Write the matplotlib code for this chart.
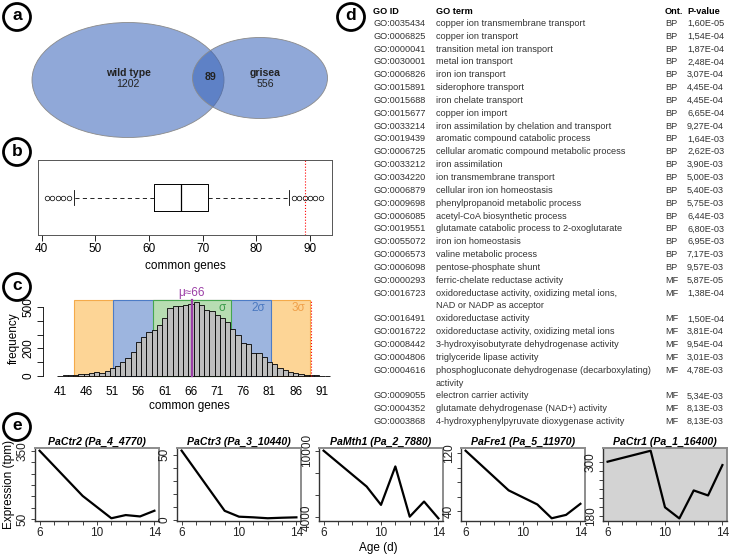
import numpy as np
import matplotlib
matplotlib.use("Agg")
import matplotlib.pyplot as plt
from matplotlib.patches import Ellipse, Circle, Rectangle

plt.rcParams['font.family'] = ['Liberation Sans', 'DejaVu Sans']

#%%
### data ###
# panel a: venn counts
venn_names = ["wild type", "grisea"]
venn_only = [1202, 556]
venn_common = 89

# panel b: boxplot of common genes (random draws)
box_q1, box_med, box_q3 = 61, 66, 71
box_whislo, box_whishi = 46, 86
box_outliers = [41, 42, 43, 44, 45, 87, 88, 89, 90, 91, 92]
observed = 89

# panel c: histogram of common genes
hist_vals = np.arange(41, 93)
hist_counts = [2, 4, 6, 8, 12, 14, 20, 28, 25, 38, 55, 75, 100, 130, 175, 245,
               285, 320, 330, 370, 420, 490, 510, 510, 515, 520, 540, 515, 475,
               470, 445, 420, 395, 340, 295, 240, 235, 170, 165, 140, 105, 88,
               55, 45, 32, 20, 15, 10, 6, 5, 3, 2]
mu, sd = 66.2, 7.5

# panel d: GO enrichment table
go_ids = ["GO:0035434", "GO:0006825", "GO:0000041", "GO:0030001", "GO:0006826",
          "GO:0015891", "GO:0015688", "GO:0015677", "GO:0033214", "GO:0019439",
          "GO:0006725", "GO:0033212", "GO:0034220", "GO:0006879", "GO:0009698",
          "GO:0006085", "GO:0019551", "GO:0055072", "GO:0006573", "GO:0006098",
          "GO:0000293", "GO:0016723", "GO:0016491", "GO:0016722", "GO:0008442",
          "GO:0004806", "GO:0004616", "GO:0009055", "GO:0004352", "GO:0003868"]
go_terms = ["copper ion transmembrane transport", "copper ion transport",
            "transition metal ion transport", "metal ion transport",
            "iron ion transport", "siderophore transport", "iron chelate transport",
            "copper ion import", "iron assimilation by chelation and transport",
            "aromatic compound catabolic process",
            "cellular aromatic compound metabolic process", "iron assimilation",
            "ion transmembrane transport", "cellular iron ion homeostasis",
            "phenylpropanoid metabolic process", "acetyl-CoA biosynthetic process",
            "glutamate catabolic process to 2-oxoglutarate", "iron ion homeostasis",
            "valine metabolic process", "pentose-phosphate shunt",
            "ferric-chelate reductase activity",
            "oxidoreductase activity, oxidizing metal ions,\nNAD or NADP as acceptor",
            "oxidoreductase activity", "oxidoreductase activity, oxidizing metal ions",
            "3-hydroxyisobutyrate dehydrogenase activity", "triglyceride lipase activity",
            "phosphogluconate dehydrogenase (decarboxylating)\nactivity",
            "electron carrier activity", "glutamate dehydrogenase (NAD+) activity",
            "4-hydroxyphenylpyruvate dioxygenase activity"]
go_ont = ["BP"] * 20 + ["MF"] * 10
go_pval = ["1,60E-05", "1,54E-04", "1,87E-04", "2,48E-04", "3,07E-04", "4,45E-04",
           "4,45E-04", "6,65E-04", "9,27E-04", "1,64E-03", "2,62E-03", "3,90E-03",
           "5,00E-03", "5,40E-03", "5,75E-03", "6,44E-03", "6,80E-03", "6,95E-03",
           "7,17E-03", "9,57E-03", "5,87E-05", "1,38E-04", "1,50E-04", "3,81E-04",
           "9,54E-04", "3,01E-03", "4,78E-03", "5,34E-03", "8,13E-03", "8,13E-03"]

# panel e: expression time courses
ages = [6, 9, 10, 11, 12, 13, 14]
gene_titles = ["PaCtr2 (Pa_4_4770)", "PaCtr3 (Pa_3_10440)", "PaMth1 (Pa_2_7880)",
               "PaFre1 (Pa_5_11970)", "PaCtr1 (Pa_1_16400)"]
expr = [[350, 152, 103, 54, 68, 62, 87],
        [53, 7, 2.5, 2, 1.3, 1.7, 2],
        [10000, 6770, 5120, 8580, 4060, 5420, 3910],
        [123.7, 68.6, 58.8, 49, 29.8, 34.5, 49.9],
        [300, 324, 200, 175.6, 237, 226, 292.6]]
e_ylims = [(42, 362), (-0.8, 55), (3670, 10240), (26, 127.5), (170, 330)]
e_yticks = [np.arange(50, 351, 50), np.arange(0, 51, 10), np.arange(4000, 10001, 2000),
            np.arange(40, 121, 20), np.arange(180, 301, 20)]

#%%
W, H = 731, 556
fig = plt.figure(figsize=(W / 100, H / 100), dpi=100)


def px_axes(l, t, r, b):
    return fig.add_axes([l / W, 1 - b / H, (r - l) / W, (b - t) / H])


#%%
### b: boxplot ###
axb = px_axes(38, 160, 332, 235)
stats = [dict(med=box_med, q1=box_q1, q3=box_q3, whislo=box_whislo,
              whishi=box_whishi, fliers=box_outliers)]
axb.bxp(stats, orientation='horizontal', widths=0.37, capwidths=0.19,
        boxprops=dict(color='black', lw=0.7),
        medianprops=dict(color='black', lw=0.9),
        whiskerprops=dict(color='black', lw=0.6, linestyle=(0, (5, 4))),
        capprops=dict(color='black', lw=0.6),
        flierprops=dict(marker='o', markersize=3.3, mfc='none', mec='black', mew=0.5))
axb.axvline(observed, color='red', lw=0.8, linestyle=':')
axb.set_xlim(39.3, 94.1)
axb.set_ylim(0.5, 1.5)
axb.set_yticks([])
axb.set_xticks(np.arange(40, 91, 10))
axb.tick_params(axis='x', labelsize=8.5, length=4, width=0.6, pad=2)
for s in axb.spines.values():
    s.set_color('#555555')
    s.set_linewidth(0.7)
axb.set_xlabel("common genes", fontsize=8.5, labelpad=3)

#%%
### c: histogram ###
axc = px_axes(43, 296, 335, 380)
band_top = 550
band_specs = [(3, '#FDD596', '#F4AA4A'), (2, '#9DB5DF', '#4D7CC6'), (1, '#B7DDB2', '#45A650')]
for k, fc, ec in band_specs:
    axc.add_patch(Rectangle((mu - k * sd, 0), 2 * k * sd, band_top, facecolor=fc,
                            edgecolor=ec, lw=0.8, zorder=1))
axc.bar(hist_vals, hist_counts, width=1.0, color='#BDBDBD', edgecolor='black',
        lw=0.6, zorder=2)
axc.plot([mu, mu], [0, band_top], color='#9B3FA6', lw=1.6, zorder=3)
axc.plot([observed, observed], [0, band_top], color='red', lw=0.8, linestyle=':', zorder=3)
axc.text(mu, band_top + 10, "μ≈66", color='#9B3FA6', fontsize=8.5, ha='center', va='bottom')
axc.text(mu + 5.7, 493, "σ", color='#3A9A4A', fontsize=8.5, ha='center', va='center')
axc.text(mu + 12.7, 493, "2σ", color='#4A78C0', fontsize=8.5, ha='center', va='center')
axc.text(mu + 20.3, 493, "3σ", color='#F0A04A', fontsize=8.5, ha='center', va='center')
axc.set_xlim(37.76, 93.5)
axc.set_ylim(-29, 580)
for name in ['top', 'right', 'bottom']:
    axc.spines[name].set_visible(False)
axc.spines['left'].set_bounds(0, 500)
axc.spines['left'].set_linewidth(0.6)
axc.set_xticks(np.arange(41, 92, 5))
axc.tick_params(axis='x', length=0, labelsize=8.5, pad=4)
axc.set_yticks(np.arange(0, 501, 100))
axc.set_yticklabels(['0', '', '200', '', '', '500'], rotation=90, va='center')
axc.tick_params(axis='y', labelsize=8.5, length=4, width=0.6, pad=2)
axc.set_ylabel("frequency", fontsize=8.5, labelpad=2)
axc.set_xlabel("common genes", fontsize=8.5, labelpad=2)

#%%
### e: expression ###
e_axes = []
for i in range(5):
    l = 35 + 142 * i
    ax = px_axes(l, 448, l + 124, 521)
    ax.plot(ages, expr[i], color='black', lw=1.6)
    ax.set_xlim(5.68, 14.32)
    ax.set_ylim(*e_ylims[i])
    ax.set_xticks(np.arange(6, 15))
    ax.set_xticklabels(['6', '', '', '', '10', '', '', '', '14'])
    yt = e_yticks[i]
    ax.set_yticks(yt)
    ax.set_yticklabels([str(v) if v in (yt[0], yt[-1]) else '' for v in yt],
                       rotation=90, va='center')
    ax.tick_params(labelsize=8.5, length=3, width=0.6, pad=1.5, colors='#222222')
    for name in ['top', 'right']:
        ax.spines[name].set_color('#8C8C8C')
        ax.spines[name].set_linewidth(1.4)
    for name in ['left', 'bottom']:
        ax.spines[name].set_color('#333333')
        ax.spines[name].set_linewidth(1.0)
    ax.set_title(gene_titles[i], fontsize=7.6, fontweight='bold', style='italic', pad=2)
    e_axes.append(ax)
e_axes[-1].set_facecolor('#D3D3D3')
e_axes[0].set_ylabel("Expression (tpm)", fontsize=8.5, labelpad=1)

#%%
### overlay: venn, table, labels ###
ov = fig.add_axes([0, 0, 1, 1])
ov.set_xlim(0, W)
ov.set_ylim(H, 0)
ov.axis('off')

venn_fc = (0.21, 0.38, 0.72, 0.55)
ov.add_patch(Ellipse((128, 80), 192, 115, facecolor=venn_fc, edgecolor='#8A8A8A', lw=0.6))
ov.add_patch(Ellipse((260, 78), 135, 81, facecolor=venn_fc, edgecolor='#8A8A8A', lw=0.6))
txt = dict(fontsize=7.6, color='#222222', ha='center', va='center')
ov.text(128, 72.7, venn_names[0], fontweight='bold', **txt)
ov.text(128, 84, str(venn_only[0]), **txt)
ov.text(210.7, 77.3, str(venn_common), fontweight='bold', **txt)
ov.text(265, 72.7, venn_names[1], fontweight='bold', **txt)
ov.text(265, 84, str(venn_only[1]), **txt)

# table
col_x = [373, 436, 665, 687]
hdr_y = 11.7
for x, t in zip(col_x, ["GO ID", "GO term", "Ont.", "P-value"]):
    ov.text(x, hdr_y, t, fontsize=6.6, fontweight='bold', ha='left', va='center')
line = 0
for gid, term, ont, pv in zip(go_ids, go_terms, go_ont, go_pval):
    y = 23.3 + 12.85 * line
    ov.text(col_x[0], y, gid, fontsize=6.6, color='#333333', ha='left', va='center')
    for j, part in enumerate(term.split("\n")):
        ov.text(col_x[1], y + 12.85 * j, part, fontsize=6.6, color='#333333', ha='left', va='center')
    ov.text(col_x[2], y, ont, fontsize=6.6, color='#333333', ha='left', va='center')
    ov.text(col_x[3], y, pv, fontsize=6.6, color='#333333', ha='left', va='center')
    line += len(term.split("\n"))

# panel letters
for letter, (cx, cy) in zip("abcde", [(17, 17), (17, 152), (17, 287), (351, 17), (17, 427)]):
    ov.add_patch(Circle((cx, cy), 13.5, fill=False, lw=2.0, color='black'))
    ov.text(cx, cy - 1, letter, fontsize=12.5, fontweight='bold', ha='center', va='center')

ov.text(378, 548, "Age (d)", fontsize=8.5, ha='center', va='center')

fig.savefig("out.png", dpi=100)
